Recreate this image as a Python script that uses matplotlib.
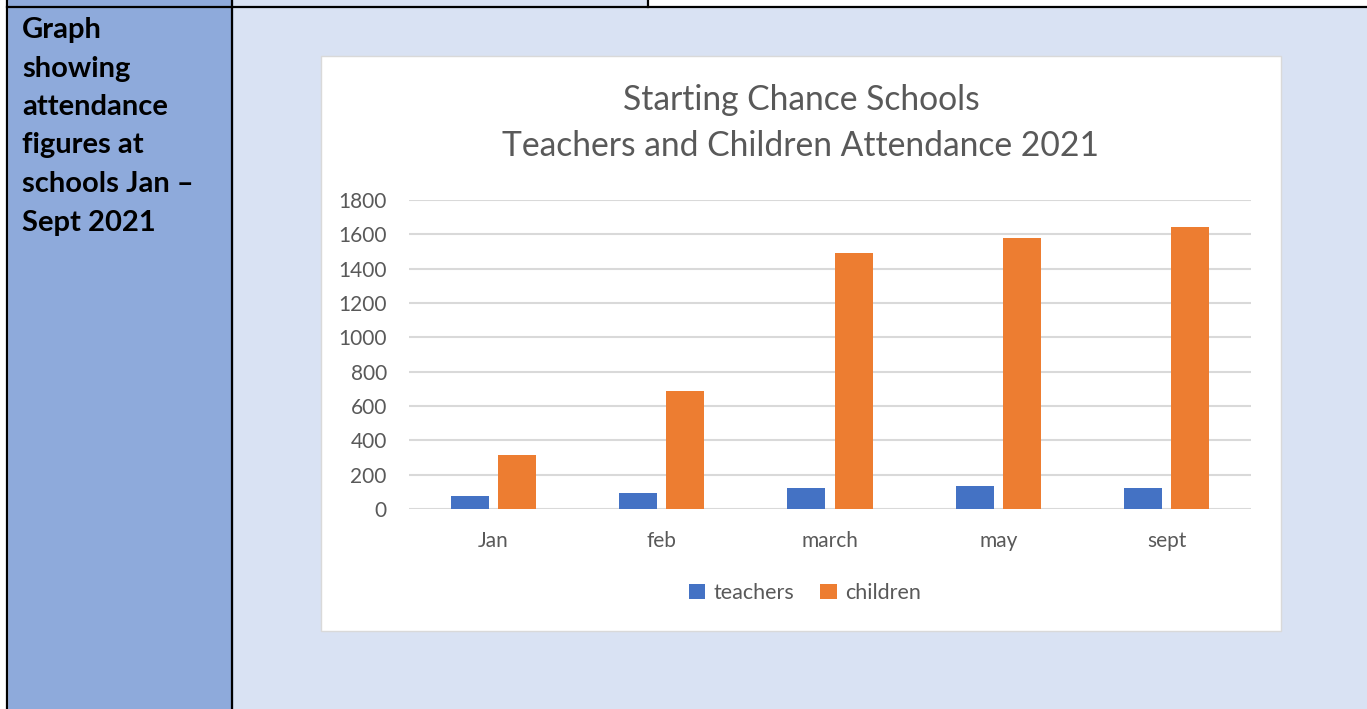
import matplotlib
matplotlib.use("Agg")
import matplotlib.pyplot as plt
from matplotlib.patches import Rectangle

months = ["Jan", "feb", "march", "may", "sept"]
teachers = [78, 95, 122, 134, 121]
children = [315, 687, 1491, 1580, 1644]
yticks = [0, 200, 400, 600, 800, 1000, 1200, 1400, 1600, 1800]

side_label = ["Graph", "showing", "attendance", "figures at", "schools Jan \u2013", "Sept 2021"]

plt.rcParams["font.family"] = ["Lato", "DejaVu Sans"]

W, H = 1367, 709
fig = plt.figure(figsize=(W / 100, H / 100), dpi=100)

# background "table" drawn in pixel coordinates
bg = fig.add_axes([0, 0, 1, 1])
bg.set_xlim(0, W)
bg.set_ylim(H, 0)
bg.axis("off")
bg.add_patch(Rectangle((0, 0), W, H, color="#d9e2f3"))
bg.add_patch(Rectangle((0, 0), 232, H, color="#8eaadb"))
bg.add_patch(Rectangle((648, 0), W - 648, 7, color="white"))
bg.add_patch(Rectangle((0, 0), 7, H, color="white"))
lw = 1.6
bg.plot([7, W], [7, 7], color="black", lw=lw)
bg.plot([7, 7], [0, H], color="black", lw=lw)
bg.plot([232, 232], [0, H], color="black", lw=lw)
bg.plot([648, 648], [0, 7], color="black", lw=lw)

# white chart box
bg.add_patch(Rectangle((321, 56), 960, 575, facecolor="white", edgecolor="#d9d9d9", lw=1))

for i, line in enumerate(side_label):
    bg.text(22, 30 + i * 38.5, line, fontsize=21, fontweight="bold", color="black",
            va="center", ha="left")

bg.text(801, 100, "Starting Chance Schools", fontsize=24.2, color="#595959", ha="center", va="center")
bg.text(801, 146, "Teachers and Children Attendance 2021", fontsize=24.2, color="#595959",
        ha="center", va="center")

# chart axes
x0, x1, ytop, ybot = 409, 1251, 200, 509
ax = fig.add_axes([x0 / W, 1 - ybot / H, (x1 - x0) / W, (ybot - ytop) / H])
ax.set_facecolor("none")
pos = range(len(months))
bw = 0.225
ax.bar([p - 0.14 for p in pos], teachers, width=bw, color="#4472c4", label="teachers", zorder=3)
ax.bar([p + 0.14 for p in pos], children, width=bw, color="#ed7d31", label="children", zorder=3)
ax.set_xlim(-0.5, len(months) - 0.5)
ax.set_ylim(0, 1800)
ax.set_yticks(yticks)
ax.set_xticks(list(pos))
ax.set_xticklabels(months)
ax.grid(axis="y", color="#d9d9d9", lw=1.5, zorder=0)
for s in ax.spines.values():
    s.set_visible(False)
ax.tick_params(length=0, labelsize=15, labelcolor="#595959")
ax.tick_params(axis="x", pad=16)
ax.tick_params(axis="y", pad=16)

ax.legend(loc="center", bbox_to_anchor=(805 / W, 1 - 593 / H), bbox_transform=fig.transFigure,
          ncol=2, frameon=False, fontsize=15.5, labelcolor="#595959",
          handlelength=0.75, handleheight=0.75, handletextpad=0.4, columnspacing=1.2)

fig.savefig("out.png", dpi=100)
